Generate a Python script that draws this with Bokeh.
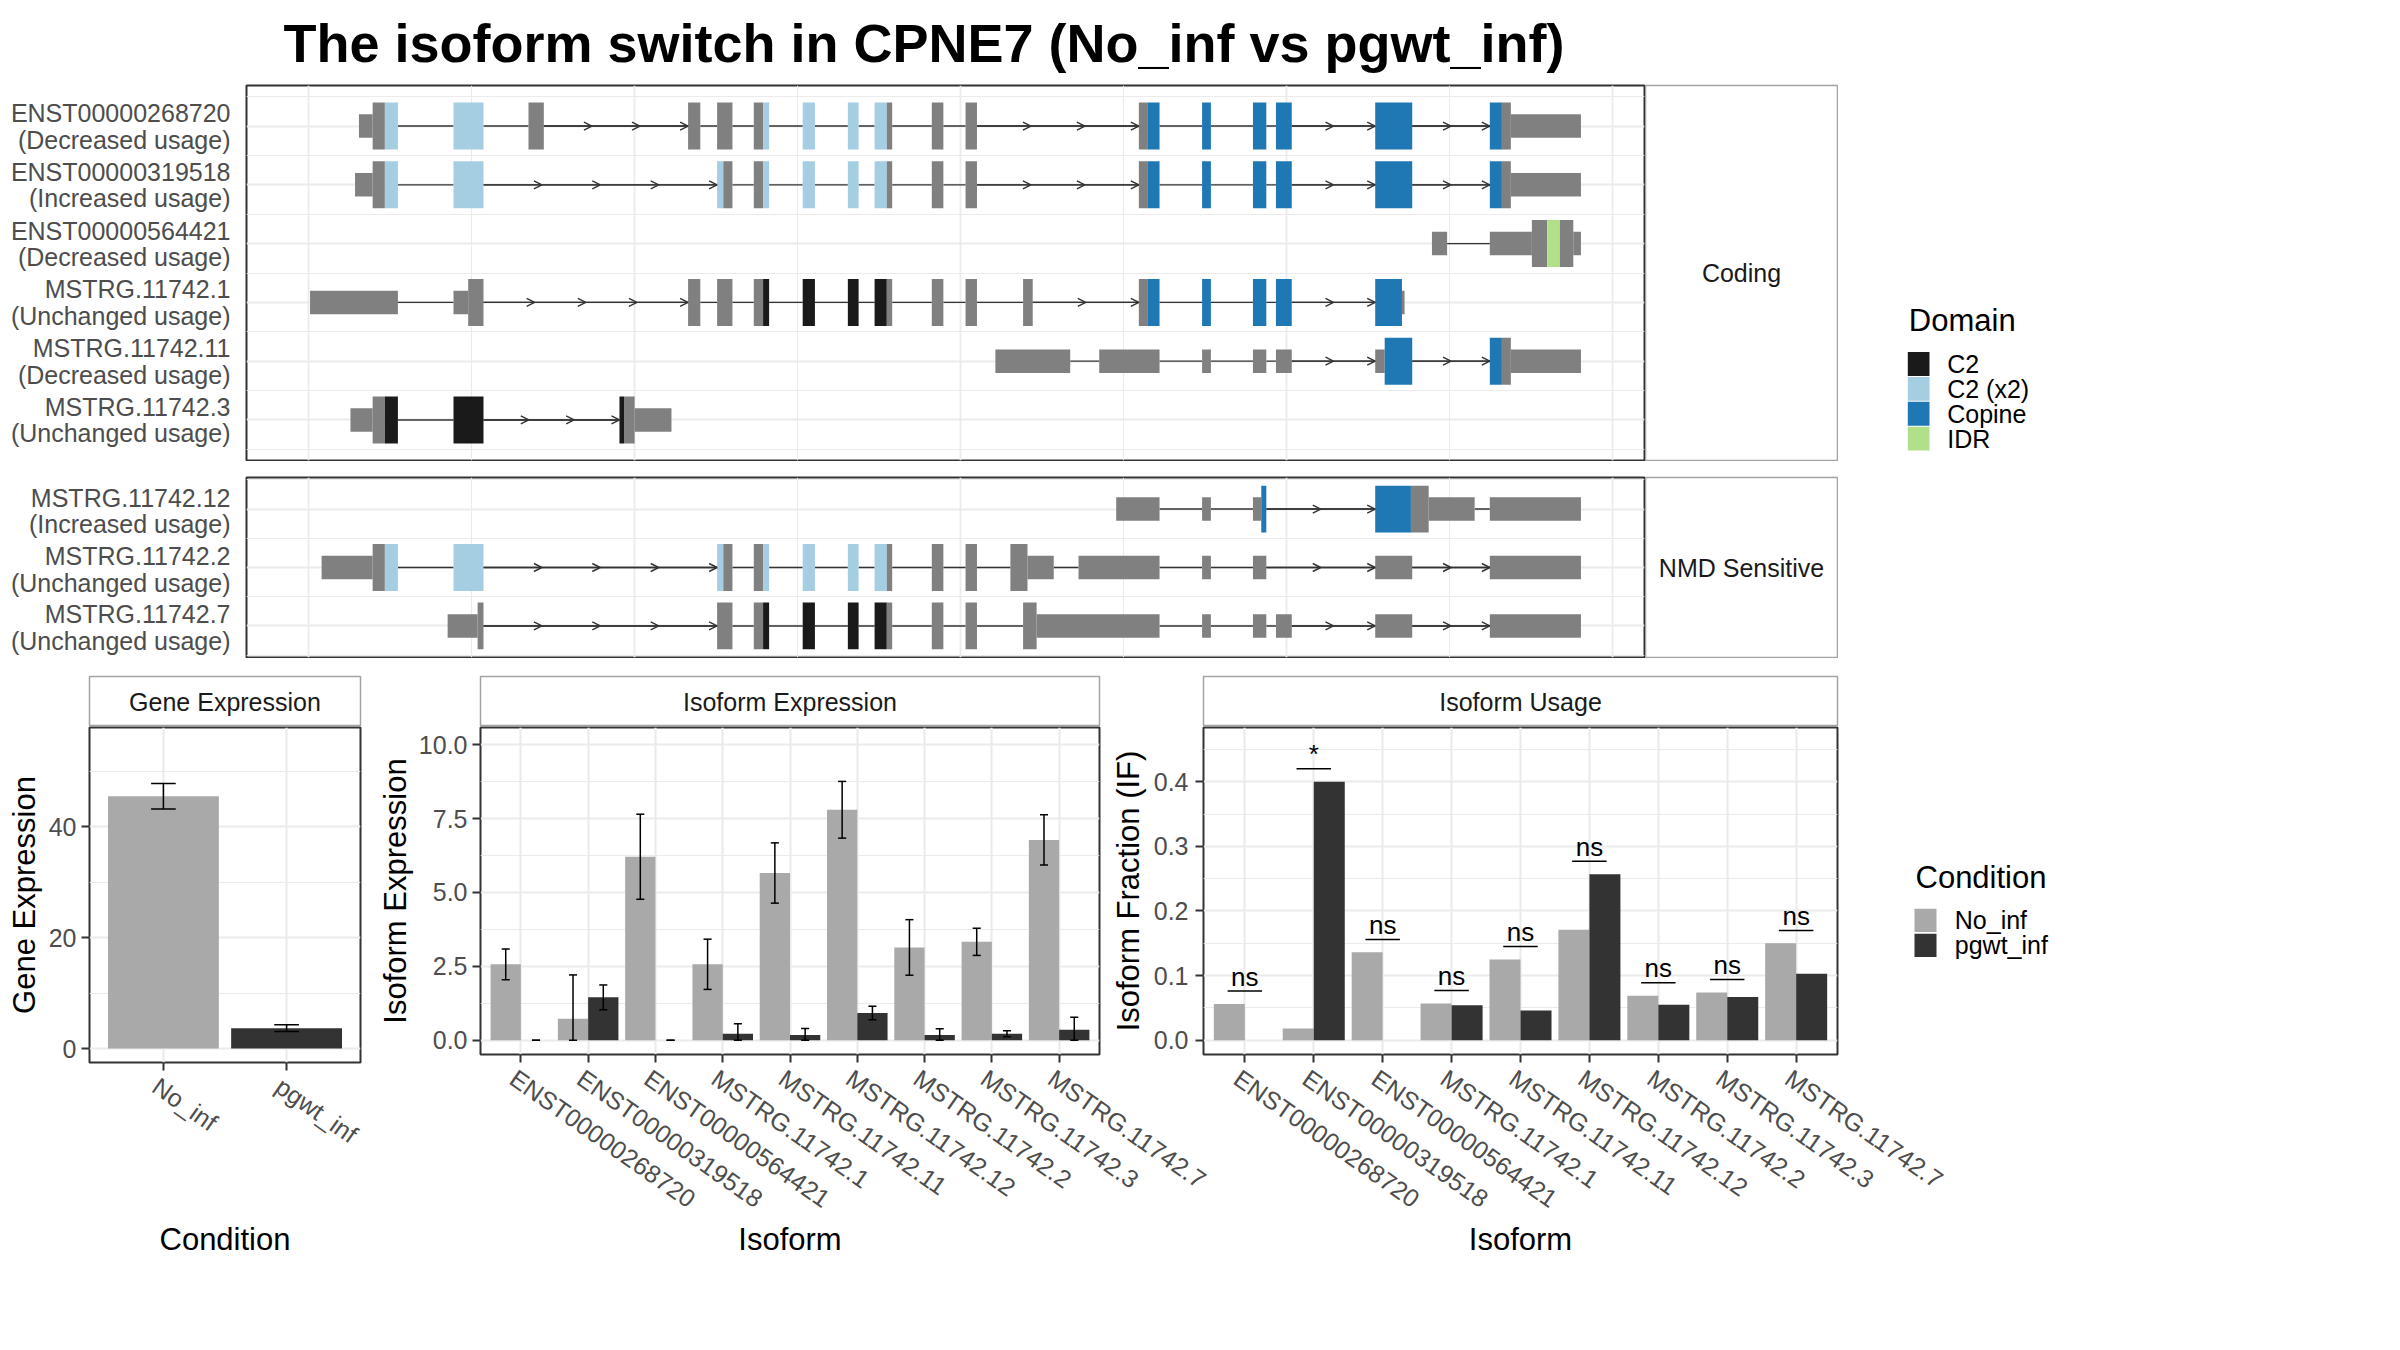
import math
from bokeh.plotting import figure
from bokeh.layouts import row, column
from bokeh.models import (Range1d, FixedTicker, ColumnDataSource, Arrow, OpenHead,
                          Grid, NumeralTickFormatter, LinearAxis)
from bokeh.core.properties import value
from bokeh.embed import file_html
from bokeh.resources import INLINE

FONT = "Liberation Sans"
GRID = "#EBEBEB"
BORDER = "#333333"
STRIP_BORDER = "#A3A3A3"
TICK_TEXT = "#4D4D4D"
STRIP_TEXT = "#1A1A1A"
EXON_GREY = "#808080"
INTRON = "#333333"

# ------------------------------------------------------------------ data
title_text = "The isoform switch in CPNE7 (No_inf vs pgwt_inf)"

coding_ids = ["ENST00000268720", "ENST00000319518", "ENST00000564421",
              "MSTRG.11742.1", "MSTRG.11742.11", "MSTRG.11742.3"]
coding_status = ["Decreased usage", "Increased usage", "Decreased usage",
                 "Unchanged usage", "Decreased usage", "Unchanged usage"]
nmd_ids = ["MSTRG.11742.12", "MSTRG.11742.2", "MSTRG.11742.7"]
nmd_status = ["Increased usage", "Unchanged usage", "Unchanged usage"]
strip_names = ["Coding", "NMD Sensitive"]

# transcript features (rescaled genomic coordinates): start, end, kind
tx_ENST00000268720 = [
    (3.10, 3.94, "UTR"), (3.94, 4.69, "CDS"), (4.69, 5.49, "C2 (x2)"),
    (8.90, 10.74, "C2 (x2)"), (13.50, 14.44, "CDS"), (23.29, 24.04, "CDS"),
    (25.07, 26.01, "CDS"), (27.32, 27.89, "CDS"), (27.89, 28.26, "C2 (x2)"),
    (30.32, 31.07, "C2 (x2)"), (33.09, 33.75, "C2 (x2)"),
    (34.73, 35.48, "C2 (x2)"), (35.48, 35.81, "CDS"), (38.24, 38.95, "CDS"),
    (40.31, 41.01, "CDS"), (50.94, 51.46, "CDS"), (51.46, 52.21, "Copine"),
    (54.82, 55.36, "Copine"), (57.94, 58.76, "Copine"), (59.35, 60.32, "Copine"),
    (65.44, 67.71, "Copine"), (72.47, 73.21, "Copine"), (73.21, 73.76, "CDS"),
    (73.76, 78.06, "UTR")]
tx_ENST00000319518 = [
    (2.86, 3.94, "UTR"), (3.94, 4.69, "CDS"), (4.69, 5.49, "C2 (x2)"),
    (8.90, 10.74, "C2 (x2)"), (25.07, 25.45, "C2 (x2)"), (25.45, 26.01, "CDS"),
    (27.32, 27.89, "CDS"), (27.89, 28.26, "C2 (x2)"), (30.32, 31.07, "C2 (x2)"),
    (33.09, 33.75, "C2 (x2)"), (34.73, 35.48, "C2 (x2)"), (35.48, 35.81, "CDS"),
    (38.24, 38.95, "CDS"), (40.31, 41.01, "CDS"), (50.94, 51.46, "CDS"),
    (51.46, 52.21, "Copine"), (54.82, 55.36, "Copine"), (57.94, 58.76, "Copine"),
    (59.35, 60.32, "Copine"), (65.44, 67.71, "Copine"), (72.47, 73.21, "Copine"),
    (73.21, 73.76, "CDS"), (73.76, 78.06, "UTR")]
tx_ENST00000564421 = [
    (68.92, 69.85, "UTR"), (72.47, 75.05, "UTR"), (75.05, 75.99, "CDS"),
    (75.99, 76.77, "IDR"), (76.77, 77.59, "CDS"), (77.59, 78.06, "UTR")]
tx_MSTRG_11742_1 = [
    (0.10, 5.49, "UTR"), (8.90, 9.80, "UTR"), (9.80, 10.74, "CDS"),
    (23.29, 24.04, "CDS"), (25.07, 26.01, "CDS"), (27.32, 27.89, "CDS"),
    (27.89, 28.26, "C2"), (30.32, 31.07, "C2"), (33.09, 33.75, "C2"),
    (34.73, 35.48, "C2"), (35.48, 35.81, "CDS"), (38.24, 38.95, "CDS"),
    (40.31, 41.01, "CDS"), (43.84, 44.43, "CDS"), (50.94, 51.46, "CDS"),
    (51.46, 52.21, "Copine"), (54.82, 55.36, "Copine"), (57.94, 58.76, "Copine"),
    (59.35, 60.32, "Copine"), (65.44, 67.08, "Copine"), (67.08, 67.24, "UTR")]
tx_MSTRG_11742_11 = [
    (42.14, 46.73, "UTR"), (48.51, 52.21, "UTR"), (54.82, 55.36, "UTR"),
    (57.94, 58.76, "UTR"), (59.35, 60.32, "UTR"), (65.44, 66.02, "UTR"),
    (66.02, 67.71, "Copine"), (72.47, 73.21, "Copine"), (73.21, 73.76, "CDS"),
    (73.76, 78.06, "UTR")]
tx_MSTRG_11742_3 = [
    (2.58, 3.94, "UTR"), (3.94, 4.69, "CDS"), (4.69, 5.49, "C2"),
    (8.90, 10.74, "C2"), (19.08, 19.36, "C2"), (19.36, 20.01, "CDS"),
    (20.01, 22.27, "UTR")]
tx_MSTRG_11742_12 = [
    (49.55, 52.21, "UTR"), (54.82, 55.36, "UTR"), (57.94, 58.45, "UTR"),
    (58.45, 58.76, "Copine"), (65.44, 67.63, "Copine"), (67.63, 68.72, "CDS"),
    (68.72, 71.54, "UTR"), (72.47, 78.06, "UTR")]
tx_MSTRG_11742_2 = [
    (0.81, 3.94, "UTR"), (3.94, 4.69, "CDS"), (4.69, 5.49, "C2 (x2)"),
    (8.90, 10.74, "C2 (x2)"), (25.07, 25.45, "C2 (x2)"), (25.45, 26.01, "CDS"),
    (27.32, 27.89, "CDS"), (27.89, 28.26, "C2 (x2)"), (30.32, 31.07, "C2 (x2)"),
    (33.09, 33.75, "C2 (x2)"), (34.73, 35.48, "C2 (x2)"), (35.48, 35.81, "CDS"),
    (38.24, 38.95, "CDS"), (40.31, 41.01, "CDS"), (43.06, 44.11, "CDS"),
    (44.11, 45.72, "UTR"), (47.24, 52.21, "UTR"), (54.82, 55.36, "UTR"),
    (57.94, 58.76, "UTR"), (65.44, 67.71, "UTR"), (72.47, 78.06, "UTR")]
tx_MSTRG_11742_7 = [
    (8.54, 10.38, "UTR"), (10.38, 10.74, "CDS"), (25.07, 26.01, "CDS"),
    (27.32, 27.89, "CDS"), (27.89, 28.26, "C2"), (30.32, 31.07, "C2"),
    (33.09, 33.75, "C2"), (34.73, 35.48, "C2"), (35.48, 35.81, "CDS"),
    (38.24, 38.95, "CDS"), (40.31, 41.01, "CDS"), (43.84, 44.67, "CDS"),
    (44.67, 52.21, "UTR"), (54.82, 55.36, "UTR"), (57.94, 58.76, "UTR"),
    (59.35, 60.32, "UTR"), (65.44, 67.71, "UTR"), (72.47, 78.06, "UTR")]

coding_tx = [tx_ENST00000268720, tx_ENST00000319518, tx_ENST00000564421,
             tx_MSTRG_11742_1, tx_MSTRG_11742_11, tx_MSTRG_11742_3]
nmd_tx = [tx_MSTRG_11742_12, tx_MSTRG_11742_2, tx_MSTRG_11742_7]

domain_names = ["C2", "C2 (x2)", "Copine", "IDR"]
domain_colors = ["#1A1A1A", "#A6CEE3", "#1F78B4", "#B2DF8A"]

conditions = ["No_inf", "pgwt_inf"]
condition_colors = ["#A9A9A9", "#333333"]
gene_mean = [45.5, 3.67]
gene_se = [2.3, 0.62]

isoforms = ["ENST00000268720", "ENST00000319518", "ENST00000564421",
            "MSTRG.11742.1", "MSTRG.11742.11", "MSTRG.11742.12",
            "MSTRG.11742.2", "MSTRG.11742.3", "MSTRG.11742.7"]
iso_mean_no = [2.57, 0.73, 6.21, 2.57, 5.66, 7.80, 3.14, 3.33, 6.78]
iso_se_no = [0.52, 1.48, 1.44, 0.85, 1.02, 0.96, 0.94, 0.46, 0.85]
iso_mean_pg = [0.00, 1.45, 0.00, 0.22, 0.18, 0.92, 0.18, 0.22, 0.35]
iso_se_pg = [0.00, 0.42, 0.00, 0.34, 0.22, 0.23, 0.21, 0.10, 0.43]
if_no = [0.056, 0.018, 0.136, 0.057, 0.125, 0.171, 0.069, 0.074, 0.150]
if_pg = [0.000, 0.400, 0.000, 0.054, 0.046, 0.257, 0.055, 0.067, 0.103]
if_sig = ["ns", "*", "ns", "ns", "ns", "ns", "ns", "ns", "ns"]

ge_ticks, ge_minor = [0, 20, 40], [10, 30, 50]
ie_ticks, ie_minor = [0, 2.5, 5, 7.5, 10], [1.25, 3.75, 6.25, 8.75]
us_ticks, us_minor = [0, 0.1, 0.2, 0.3, 0.4], [0.05, 0.15, 0.25, 0.35, 0.45]
tx_grid_major, tx_grid_minor = [0, 20, 40, 60, 80], [10, 30, 50, 70]


# ------------------------------------------------------------------ helpers
def make_fig(width, height, x_range, y_range, top=0, right=0, bottom=0, left=0, axes=False):
    kw = dict(width=width, height=height, x_range=x_range, y_range=y_range,
              output_backend="svg", toolbar_location=None, title=None,
              min_border_top=top, min_border_right=right,
              min_border_bottom=bottom, min_border_left=left)
    if not axes:
        kw.update(x_axis_type=None, y_axis_type=None)
    p = figure(**kw)
    p.border_fill_color = None
    p.background_fill_color = None
    p.outline_line_color = None
    return p


def add_text(p, xs, ys, texts, size, color="#000000", align="left", style="normal"):
    # vertical position given as the middle of the capital letters
    p.text(x=xs, y=ys, text=texts, text_font=value(FONT), text_font_size=size,
           text_color=color, text_align=align, text_baseline="middle",
           text_font_style=style)


kind_color = {"UTR": EXON_GREY, "CDS": EXON_GREY}
kind_color.update(dict(zip(domain_names, domain_colors)))

all_pos = [v for t in coding_tx + nmd_tx for f in t for v in f[:2]]
gx0, gx1 = min(all_pos), max(all_pos)
gpad = 0.05 * (gx1 - gx0)
tx_x_range = Range1d(gx0 - gpad, gx1 + gpad)


def tx_panel(txs, height, top, bottom):
    n = len(txs)
    y0, y1 = 1 - 0.4, n + 0.4
    ypad = 0.05 * (y1 - y0)
    yr = Range1d(y0 - ypad, y1 + ypad)
    p = make_fig(1400, height, tx_x_range, yr, top=top, right=1, bottom=bottom, left=1)
    p.background_fill_color = "white"
    p.outline_line_color = BORDER
    p.outline_line_width = 2
    p.add_layout(Grid(dimension=0, ticker=FixedTicker(ticks=tx_grid_major, minor_ticks=tx_grid_minor),
                      grid_line_color=GRID, grid_line_width=1.8,
                      minor_grid_line_color=GRID, minor_grid_line_width=1.0))
    rows_ = list(range(1, n + 1))
    p.add_layout(Grid(dimension=1, ticker=FixedTicker(ticks=rows_, minor_ticks=[r - 0.5 for r in rows_] + [n + 0.5]),
                      grid_line_color=GRID, grid_line_width=1.8,
                      minor_grid_line_color=GRID, minor_grid_line_width=1.0))
    q = dict(left=[], right=[], bottom=[], top=[], color=[])
    seg = dict(x0=[], x1=[], y=[])
    arr = dict(x0=[], x1=[], y=[])
    for i, t in enumerate(txs):
        yc = n - i
        feats = sorted(t)
        for s, e, k in feats:
            h = 0.2 if k == "UTR" else 0.4
            q["left"].append(s); q["right"].append(e)
            q["bottom"].append(yc - h); q["top"].append(yc + h)
            q["color"].append(kind_color[k])
        for a, b in zip(feats[:-1], feats[1:]):
            s, e = a[1], b[0]
            if e - s > 1e-9:
                seg["x0"].append(s); seg["x1"].append(e); seg["y"].append(yc)
                nseg = math.ceil((e - s) / 3.7)
                if nseg >= 2:
                    for k in range(nseg):
                        arr["x0"].append(s + (e - s) * k / nseg)
                        arr["x1"].append(s + (e - s) * (k + 1) / nseg)
                        arr["y"].append(yc)
    p.segment(x0="x0", y0="y", x1="x1", y1="y", source=ColumnDataSource(seg),
              line_color=INTRON, line_width=1.4)
    p.add_layout(Arrow(end=OpenHead(size=8, line_color=INTRON, line_width=1.4),
                       x_start="x0", y_start="y", x_end="x1", y_end="y",
                       source=ColumnDataSource(arr), line_color=INTRON, line_width=1.4))
    p.quad(left="left", right="right", bottom="bottom", top="top", fill_color="color",
           line_color=None, source=ColumnDataSource(q))
    return p, yr


def label_panel(ids, status, yr, height, top, bottom, up=11.5, down=15.0):
    width = 245
    p = make_fig(width, height, Range1d(0, width), yr, top=top, bottom=bottom)
    n = len(ids)
    ppu = (height - top - bottom) / (yr.end - yr.start)
    yc = [n - i for i in range(n)]
    add_text(p, [230] * n, [y + up / ppu for y in yc], ids, "25px", TICK_TEXT, align="right")
    add_text(p, [230] * n, [y - down / ppu for y in yc], ["(%s)" % s for s in status],
             "25px", TICK_TEXT, align="right")
    return p


def strip_panel(width, height, name, top=0, right=0, bottom=0, left=0):
    p = make_fig(width, height, Range1d(0, 1), Range1d(0, 1), top=top, right=right, bottom=bottom, left=left)
    p.background_fill_color = "white"
    p.outline_line_color = STRIP_BORDER
    p.outline_line_width = 1.5
    add_text(p, [0.5], [0.5], [name], "25px", STRIP_TEXT, align="center")
    return p


def style_axes(p, frame_w, xlabel, ylabel, xticks, xlabels, yticks, yminor, yfmt,
               x_title_standoff, y_title_standoff, y_label_standoff=7):
    mx, my = p.xaxis[0], p.yaxis[0]
    # labelled x axis on a range shifted a few pixels, so the rotated labels start at the tick
    xr = p.x_range
    d = 8.0 * (xr.end - xr.start) / frame_w
    p.extra_x_ranges = {"lab": Range1d(xr.start + d, xr.end + d)}
    lx = LinearAxis(x_range_name="lab")
    p.add_layout(lx, "below")
    for ax in (mx, my, lx):
        ax.axis_line_color = None
        ax.major_tick_line_color = BORDER
        ax.major_tick_line_width = 2
        ax.major_tick_out = 8
        ax.major_tick_in = 0
        ax.minor_tick_line_color = None
        ax.major_label_text_font = FONT
        ax.major_label_text_font_size = "25px"
        ax.major_label_text_color = TICK_TEXT
        ax.axis_label_text_font = FONT
        ax.axis_label_text_font_size = "31px"
        ax.axis_label_text_font_style = "normal"
        ax.axis_label_text_color = "#000000"
    mx.ticker = FixedTicker(ticks=xticks)
    mx.major_label_overrides = {t: "" for t in xticks}
    mx.major_label_text_font_size = "0px"
    mx.major_label_standoff = 0
    lx.ticker = FixedTicker(ticks=xticks)
    lx.major_tick_line_color = None
    lx.major_tick_out = 0
    lx.major_label_overrides = {t: l for t, l in zip(xticks, xlabels)}
    lx.major_label_orientation = -math.radians(35)
    lx.major_label_standoff = 13
    lx.axis_label = xlabel
    lx.axis_label_standoff = x_title_standoff
    my.ticker = FixedTicker(ticks=yticks, minor_ticks=yminor)
    my.major_label_standoff = y_label_standoff
    if yfmt:
        my.formatter = NumeralTickFormatter(format=yfmt)
    my.axis_label = ylabel
    my.axis_label_standoff = y_title_standoff
    p.xgrid.ticker = FixedTicker(ticks=xticks)
    p.ygrid.ticker = FixedTicker(ticks=yticks, minor_ticks=yminor)
    p.xgrid.grid_line_color = GRID
    p.ygrid.grid_line_color = GRID
    p.xgrid.grid_line_width = 2.2
    p.ygrid.grid_line_width = 2.2
    p.ygrid.minor_grid_line_color = GRID
    p.ygrid.minor_grid_line_width = 1.1
    p.background_fill_color = "white"
    p.outline_line_color = BORDER
    p.outline_line_width = 2


def add_errorbars(p, xs, means, ses, cap):
    lo = [max(0.0, m - s) for m, s in zip(means, ses)]
    hi = [m + s for m, s in zip(means, ses)]
    p.segment(x0=xs, y0=lo, x1=xs, y1=hi, line_color="#000000", line_width=1.5)
    for ys in (lo, hi):
        p.segment(x0=[x - cap / 2 for x in xs], y0=ys, x1=[x + cap / 2 for x in xs], y1=ys,
                  line_color="#000000", line_width=1.5)


# ------------------------------------------------------------------ header (page y 0..84)
header = make_fig(2400, 84, Range1d(0, 2400), Range1d(84, 0))
add_text(header, [923.5], [42.7], [title_text], "54px", style="bold", align="center")

# ------------------------------------------------------------------ transcripts (page y 84..461, 461..658)
coding_fig, coding_yr = tx_panel(coding_tx, 377, 1, 1)
coding_lab = label_panel(coding_ids, coding_status, coding_yr, 377, 1, 1, up=13.0, down=13.5)
coding_strip = strip_panel(193, 377, strip_names[0], top=1, right=1, bottom=1)

leg1 = make_fig(562, 377, Range1d(1838, 2400), Range1d(461, 84))
add_text(leg1, [1908.3], [320.5], ["Domain"], "31px")
for i, (nm, colr) in enumerate(zip(domain_names, domain_colors)):
    top_ = 352 + 25 * i
    leg1.quad(left=[1907.3], right=[1929], top=[top_], bottom=[top_ + 24],
              fill_color=colr, line_color=None)
    add_text(leg1, [1946.7], [top_ + 12], [nm], "25px")

nmd_fig, nmd_yr = tx_panel(nmd_tx, 197, 16, 1)
nmd_lab = label_panel(nmd_ids, nmd_status, nmd_yr, 197, 16, 1)
nmd_strip = strip_panel(193, 197, strip_names[1], top=16, right=1, bottom=1)

# ------------------------------------------------------------------ gene expression (page y 658..1342)
cond_x = [i + 1 for i in range(len(conditions))]
ge_strip = strip_panel(372, 68, "Gene Expression", top=18, left=89, right=12)
ge = make_fig(372, 616, Range1d(0.4, 2.6), Range1d(-2.52, 57.9), top=1, right=12, bottom=280, left=89, axes=True)
style_axes(ge, 271, "Condition", "Gene Expression", cond_x, conditions, ge_ticks, ge_minor, None, 59, 4,
           y_label_standoff=5)
ge.vbar(x=cond_x, top=gene_mean, bottom=0, width=0.9, fill_color=condition_colors, line_color=None)
add_errorbars(ge, cond_x, gene_mean, gene_se, 0.2)

# ------------------------------------------------------------------ isoform expression
iso_x = [i + 1 for i in range(len(isoforms))]
x_no = [x - 0.225 for x in iso_x]
x_pg = [x + 0.225 for x in iso_x]
ie_strip = strip_panel(908, 68, "Isoform Expression", top=18, left=108, right=181)
ie = make_fig(908, 616, Range1d(0.4, 9.6), Range1d(-0.484, 10.585), top=1, right=181, bottom=288, left=108, axes=True)
style_axes(ie, 619, "Isoform", "Isoform Expression", iso_x, isoforms, ie_ticks, ie_minor, "0.0", -5, 3,
           y_label_standoff=5)
ie.vbar(x=x_no, top=iso_mean_no, bottom=0, width=0.45, fill_color=condition_colors[0], line_color=None)
ie.vbar(x=x_pg, top=iso_mean_pg, bottom=0, width=0.45, fill_color=condition_colors[1], line_color=None)
add_errorbars(ie, x_no, iso_mean_no, iso_se_no, 0.12)
add_errorbars(ie, x_pg, iso_mean_pg, iso_se_pg, 0.12)

# ------------------------------------------------------------------ isoform usage
us_strip = strip_panel(875, 68, "Isoform Usage", top=18, left=103, right=138)
us_yr = Range1d(-0.0221, 0.484)
us = make_fig(875, 616, Range1d(0.4, 9.6), us_yr, top=1, right=138, bottom=288, left=103, axes=True)
style_axes(us, 634, "Isoform", "Isoform Fraction (IF)", iso_x, isoforms, us_ticks, us_minor, "0.0", -5, 5)
us.vbar(x=x_no, top=if_no, bottom=0, width=0.45, fill_color=condition_colors[0], line_color=None)
us.vbar(x=x_pg, top=if_pg, bottom=0, width=0.45, fill_color=condition_colors[1], line_color=None)
us_ppu = (616 - 1 - 288) / (us_yr.end - us_yr.start)
sig_y = [max(a, b) + 0.02 for a, b in zip(if_no, if_pg)]
us.segment(x0=[x - 0.25 for x in iso_x], y0=sig_y, x1=[x + 0.25 for x in iso_x], y1=sig_y,
           line_color="#000000", line_width=1.5)
add_text(us, iso_x, [y + 14.4 / us_ppu for y in sig_y], if_sig, "26px", align="center")

# ------------------------------------------------------------------ condition legend
leg2 = make_fig(563, 684, Range1d(1837, 2400), Range1d(1342, 658))
leg2.margin = (0, 0, 0, -138)
add_text(leg2, [1915], [877.1], ["Condition"], "31px")
for i, (nm, colr) in enumerate(zip(conditions, condition_colors)):
    top_ = 908.3 + 25 * i
    leg2.quad(left=[1914], right=[1936], top=[top_], bottom=[top_ + 23.3],
              fill_color=colr, line_color=None)
    add_text(leg2, [1954.3], [top_ + 11.6], [nm], "25px")

# ------------------------------------------------------------------ layout
row2 = row(coding_lab, coding_fig, coding_strip, leg1)
row3 = row(nmd_lab, nmd_fig, nmd_strip)
col_ge = column(ge_strip, ge)
col_ie = column(ie_strip, ie)
col_us = column(us_strip, us, margin=(0, 0, 0, -180))
row4 = row(col_ge, col_ie, col_us, leg2)
page = column(header, row2, row3, row4)

open("out.html", "w").write(file_html(page, INLINE))
